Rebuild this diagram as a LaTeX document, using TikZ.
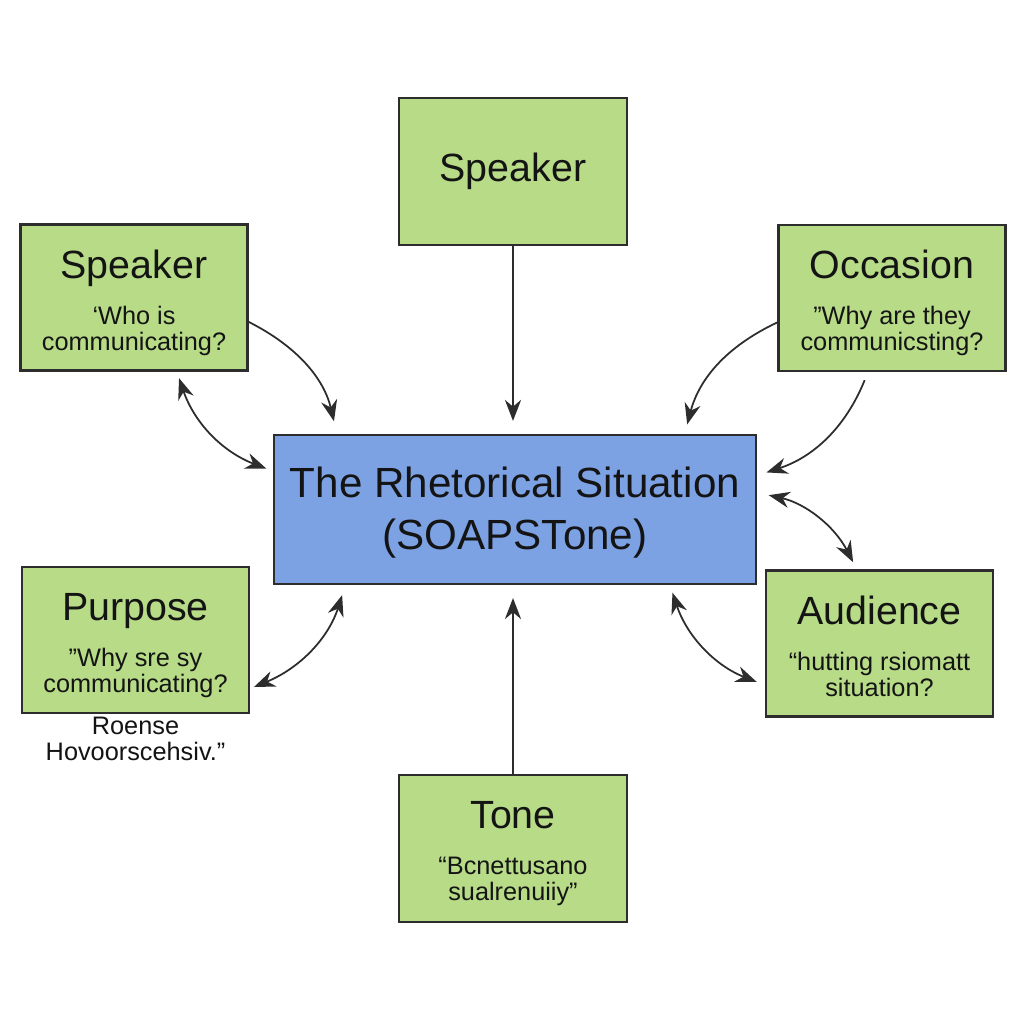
\documentclass[tikz,border=0pt]{standalone}
\usepackage{fontspec}
\setmainfont{Liberation Sans}
\usetikzlibrary{arrows.meta, positioning}
\definecolor{boxgreen}{RGB}{183,219,135}
\definecolor{hubblue}{RGB}{124,162,228}
\definecolor{edgegray}{RGB}{45,45,45}
\definecolor{inkblack}{RGB}{20,20,20}
\tikzset{hd/.tip={Stealth[length=6pt,width=4.6pt]},
    box/.style={draw=edgegray,fill=boxgreen,line width=0.6pt,
        minimum width=2.27cm,minimum height=1.46cm,inner sep=0pt},
    hub/.style={draw=edgegray,fill=hubblue,line width=0.6pt,
        minimum width=4.82cm,minimum height=1.49cm,inner sep=0pt,
        align=center,text=inkblack,font=\fontsize{12pt}{14.8pt}\selectfont},
    ttl/.style={inner sep=0pt,anchor=base,text=inkblack,
        font=\fontsize{11.2pt}{13pt}\selectfont},
    sub/.style={inner sep=0pt,anchor=base,align=center,text=inkblack,
        font=\fontsize{7.2pt}{7.4pt}\selectfont},
    link/.style={draw=edgegray,line width=0.5pt,-hd},
    both/.style={draw=edgegray,line width=0.5pt,hd-hd}}

\begin{document}
\begin{tikzpicture}
    % Canvas
    \fill[white] (0,0) rectangle (10.24,10.24);
    \useasboundingbox (0,0) rectangle (10.24,10.24);

    % Central node
    \node[hub] (rs) at (5.15,5.145) {\strut The Rhetorical Situation\\(SOAPSTone)};

    % Outer boxes
    \node[box,minimum width=2.28cm,minimum height=1.47cm,text=inkblack,
        font=\fontsize{11.2pt}{13pt}\selectfont] (spk) at (5.13,8.525) {Speaker};

    \node[box] (lspk) at (1.34,7.265) {};
    \node[ttl] (lspkT) at ([yshift=-5.5mm]lspk.north) {Speaker};
    \node[sub] (lspkS) at ([yshift=-12.7mm]lspk.north) {‘Who is\\communicating?};

    \node[box] (occ) at (8.92,7.26) {};
    \node[ttl] (occT) at ([yshift=-5.5mm]occ.north) {Occasion};
    \node[sub] (occS) at ([yshift=-12.7mm]occ.north) {"Why are they\\communicsting?};

    \node[box] (pur) at (1.355,3.84) {};
    \node[ttl] (purT) at ([yshift=-5.5mm]pur.north) {Purpose};
    \node[sub] (purS) at ([yshift=-12.7mm]pur.north) {"Why sre sy\\communicating?};
    \node[sub] (purN) at ([yshift=-4.6mm]pur.south) {Roense\\Hovoorscehsiv.”};

    \node[box] (aud) at (8.795,3.805) {};
    \node[ttl] (audT) at ([yshift=-5.5mm]aud.north) {Audience};
    \node[sub] (audS) at ([yshift=-12.7mm]aud.north) {“hutting rsiomatt\\situation?};

    \node[box,minimum width=2.28cm,minimum height=1.47cm] (tone) at (5.13,1.755) {};
    \node[ttl] (toneT) at ([yshift=-5.5mm]tone.north) {Tone};
    \node[sub] (toneS) at ([yshift=-12.7mm]tone.north) {“Bcnettusano\\sualrenuiiy”};

    % Straight connectors
    \draw[link, shorten >=3.7pt] (spk.south) -- (spk.south |- rs.north);
    \draw[link, shorten >=3.7pt] (tone.north) -- (tone.north |- rs.south);

    % Curved connectors
    \draw[link, shorten >=3.7pt] (lspk.-12.5) to[bend left=25] (rs.157);
    \draw[both, shorten <=2pt, shorten >=2pt] (lspk.-60) to[bend right=25] (rs.171);
    \draw[link, shorten >=2.8pt] (occ.192) to[bend right=25] (rs.24);
    \draw[link, shorten <=2.5pt, shorten >=2.8pt] (occ.-108) to[bend left=25] (rs.8);
    \draw[both, shorten <=3.4pt, shorten >=2.3pt] (rs.4.6) to[bend left=25] (aud.107);
    \draw[both, shorten <=2.3pt, shorten >=2.5pt] (rs.-26) to[bend right=25] (aud.200);
    \draw[both, shorten <=1.2pt, shorten >=3pt] (pur.-23) to[bend right=25] (rs.204);
\end{tikzpicture}
\end{document}
